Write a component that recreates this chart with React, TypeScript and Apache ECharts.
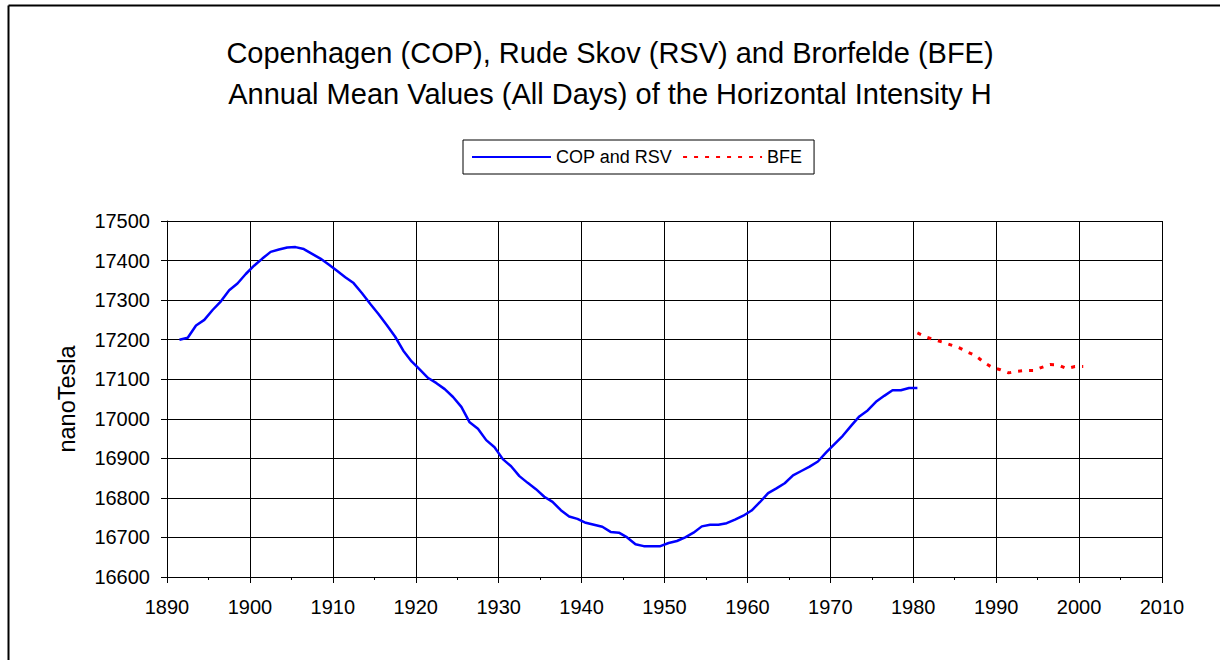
import React, { useEffect, useRef } from "react";
import * as echarts from "echarts";

const copYears: number[] = [];
for (let y = 1891; y <= 1980; y++) copYears.push(y + 0.5);
const copValues = [
  17200, 17205, 17236, 17250, 17275, 17297, 17325, 17342, 17366, 17387,
  17405, 17422, 17428, 17433, 17434, 17429, 17417, 17405, 17390, 17374,
  17358, 17343, 17318, 17291, 17265, 17237, 17208, 17172, 17145, 17124,
  17103, 17090, 17075, 17055, 17030, 16991, 16975, 16946, 16928, 16898,
  16880, 16855, 16838, 16822, 16803, 16790, 16769, 16753, 16747, 16737,
  16732, 16727, 16714, 16712, 16700, 16683, 16678, 16678, 16678, 16686,
  16691, 16700, 16712, 16728, 16732, 16732, 16736, 16745, 16755, 16768,
  16789, 16812, 16824, 16837, 16857, 16868, 16879, 16892, 16915, 16936,
  16957, 16982, 17006, 17021, 17043, 17058, 17072, 17072, 17078, 17078,
];

const bfeYears: number[] = [];
for (let y = 1980; y <= 2000; y++) bfeYears.push(y + 0.5);
const bfeValues = [
  17217, 17207, 17200, 17194, 17187, 17180, 17169, 17160, 17143, 17130,
  17124, 17116, 17120, 17122, 17122, 17130, 17137, 17136, 17127, 17132,
  17132,
];

const seriesNames = ["COP and RSV", "BFE"];
const titleLines = [
  "Copenhagen (COP), Rude Skov (RSV) and Brorfelde (BFE)",
  "Annual Mean Values (All Days) of the Horizontal Intensity H",
];
const yAxisName = "nanoTesla";

const FONT = "'Liberation Sans', Arial, sans-serif";

export default function App() {
  const ref = useRef<HTMLDivElement>(null);
  useEffect(() => {
    document.body.style.margin = "0";
    if (!ref.current) return;
    const chart = echarts.init(ref.current, undefined, { renderer: "svg" });
    chart.setOption({
      animation: false,
      backgroundColor: "#fff",
      title: {
        text: titleLines.join("\n"),
        left: "center",
        top: 32,
        padding: 0,
        textStyle: {
          fontFamily: FONT,
          fontSize: 29,
          lineHeight: 41,
          fontWeight: "normal",
          color: "#000",
        },
      },
      legend: {
        data: seriesNames,
        left: 463,
        top: 140,
        padding: [8, 12, 8, 8],
        borderColor: "#000",
        borderWidth: 1,
        itemGap: 10,
        itemWidth: 79,
        itemHeight: 14,
        itemStyle: { color: "transparent", borderWidth: 0, opacity: 0 },
        textStyle: { fontFamily: FONT, fontSize: 18, color: "#000" },
      },
      graphic: [
        { type: "line", shape: { x1: 8.5, y1: 5.5, x2: 1220, y2: 5.5 }, style: { stroke: "#000", lineWidth: 2 } },
        { type: "line", shape: { x1: 8.5, y1: 5.5, x2: 8.5, y2: 660 }, style: { stroke: "#000", lineWidth: 2 } },
      ],
      grid: { left: 167, right: 58, top: 221, bottom: 83, containLabel: false },
      xAxis: {
        type: "value",
        min: 1890,
        max: 2010,
        interval: 10,
        axisLine: { show: true, lineStyle: { color: "#000", width: 1 } },
        axisTick: { show: true, length: 6, lineStyle: { color: "#000" } },
        minorTick: { show: true, splitNumber: 2, length: 3, lineStyle: { color: "#000" } },
        splitLine: { show: true, lineStyle: { color: "#000", width: 1 } },
        axisLabel: {
          fontFamily: FONT,
          fontSize: 20,
          color: "#000",
          margin: 20,
          formatter: (v: number) => String(v),
        },
      },
      yAxis: {
        type: "value",
        min: 16600,
        max: 17500,
        interval: 100,
        name: yAxisName,
        nameLocation: "middle",
        nameGap: 88,
        nameTextStyle: { fontFamily: FONT, fontSize: 23.5, color: "#000" },
        axisLine: { show: true, lineStyle: { color: "#000", width: 1 } },
        axisTick: { show: true, length: 6, lineStyle: { color: "#000" } },
        splitLine: { show: true, lineStyle: { color: "#000", width: 1 } },
        axisLabel: {
          fontFamily: FONT,
          fontSize: 20,
          color: "#000",
          margin: 17,
          formatter: (v: number) => String(v),
        },
      },
      series: [
        {
          name: seriesNames[0],
          type: "line",
          data: copYears.map((y, i) => [y, copValues[i]]),
          symbol: "none",
          lineStyle: { color: "#0000FF", width: 2.5 },
          itemStyle: { color: "#0000FF" },
        },
        {
          name: seriesNames[1],
          type: "line",
          data: bfeYears.map((y, i) => [y, bfeValues[i]]),
          symbol: "none",
          lineStyle: { color: "#FF0000", width: 3, type: [4, 7] },
          itemStyle: { color: "#FF0000" },
        },
      ],
    });
    return () => chart.dispose();
  }, []);
  return <div ref={ref} style={{ width: 1220, height: 660 }} />;
}
